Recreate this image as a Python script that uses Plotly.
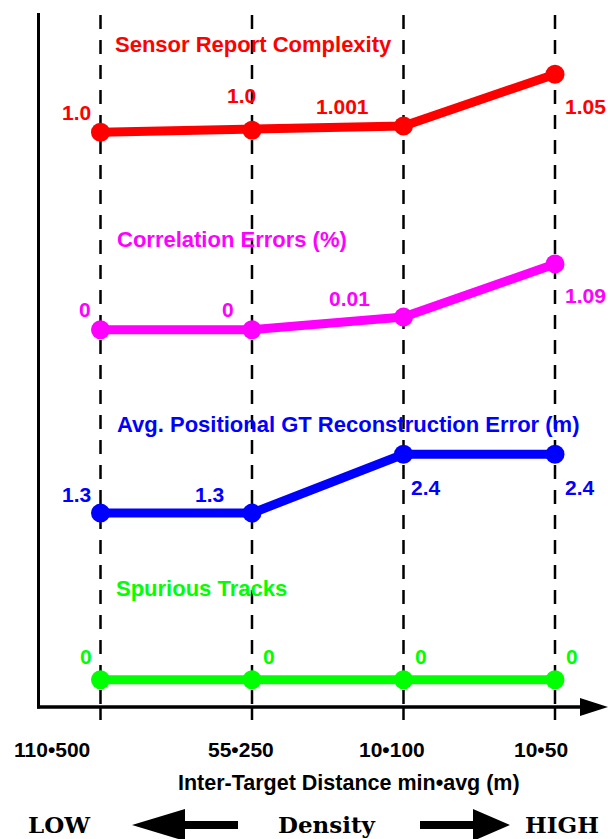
import plotly.graph_objects as go

# ---------------- data ----------------
categories = ["110•500", "55•250", "10•100", "10•50"]
x_title = "Inter-Target Distance min•avg (m)"

series_names = ["Sensor Report Complexity", "Correlation Errors (%)",
                "Avg. Positional GT Reconstruction Error (m)", "Spurious Tracks"]
series_colors = ["#FF0000", "#FF00FF", "#0000FF", "#00FF00"]

# schematic plotted levels and value labels
levels_complexity = [82.1, 82.4, 83.0, 90.4]
labels_complexity = ["1.0", "1.0", "1.001", "1.05"]
levels_correlation = [53.9, 53.9, 55.7, 63.3]
labels_correlation = ["0", "0", "0.01", "1.09"]
levels_gt_error = [27.7, 27.7, 36.1, 36.1]
labels_gt_error = ["1.3", "1.3", "2.4", "2.4"]
levels_spurious = [3.9, 3.9, 3.9, 3.9]
labels_spurious = ["0", "0", "0", "0"]

all_levels = [levels_complexity, levels_correlation, levels_gt_error, levels_spurious]
all_labels = [labels_complexity, labels_correlation, labels_gt_error, labels_spurious]

# ---------------- layout helpers (pixel -> data for decorations) ----------------
W, H = 608, 839
X0, XS = 100.5, 151.5      # pixel of x=0, pixels per category
Y0, YS = 707.0, 7.0        # pixel of level 0, pixels per level unit


def X(px):
    return (px - X0) / XS


def Y(py):
    return (Y0 - py) / YS


FONT = "Liberation Sans, Arial, Helvetica, sans-serif"
SERIF = "DejaVu Serif, serif"

# label offsets in pixels (dx right, dy down) relative to markers
label_offsets = [
    [(-24, -20), (-11, -35), (-61, -20), (30, 32)],
    [(-16, -20), (-24, -20), (-54, -19), (30, 32)],
    [(-24, -19), (-43, -19), (22, 33), (25, 33)],
    [(-15, -23), (17, -23), (17, -23), (17, -23)],
]
title_pos = [(113, 44.5), (115, 239.5), (115, 424), (114, 588)]

fig = go.Figure()
xs = list(range(len(categories)))

shapes = []
# dashed verticals and ticks
for i in xs:
    shapes.append(dict(type="line", x0=i, x1=i, y0=Y(15), y1=Y(706), xref="x", yref="y",
                       line=dict(color="black", width=2.5, dash="14px,11px"), layer="below"))
    shapes.append(dict(type="line", x0=i, x1=i, y0=Y(707), y1=Y(720), xref="x", yref="y",
                       line=dict(color="black", width=2.5)))
# axes
shapes.append(dict(type="line", x0=X(38.5), x1=X(38.5), y0=Y(13), y1=Y(708.5),
                   line=dict(color="black", width=3)))
shapes.append(dict(type="line", x0=X(37), x1=X(583), y0=Y(707), y1=Y(707),
                   line=dict(color="black", width=3.5)))


def path(points):
    return "M " + " L ".join(f"{X(a)},{Y(b)}" for a, b in points) + " Z"


shapes.append(dict(type="path", path=path([(580, 698), (608, 707), (580, 716)]),
                   fillcolor="black", line=dict(width=0)))
shapes.append(dict(type="path",
                   path=path([(132, 825), (185, 809), (185, 821), (238, 821), (238, 829), (185, 829), (185, 841)]),
                   fillcolor="black", line=dict(width=0)))
shapes.append(dict(type="path",
                   path=path([(420, 821), (473, 821), (473, 809), (510, 825), (473, 841), (473, 829), (420, 829)]),
                   fillcolor="black", line=dict(width=0)))

annotations = []
for s, (name, color, lv, lb) in enumerate(zip(series_names, series_colors, all_levels, all_labels)):
    fig.add_trace(go.Scatter(x=xs, y=lv, mode="lines+markers",
                             line=dict(color=color, width=9),
                             marker=dict(color=color, size=19),
                             showlegend=False, hoverinfo="skip"))
    for i, (yv, t) in enumerate(zip(lv, lb)):
        dx, dy = label_offsets[s][i]
        annotations.append(dict(x=i, y=yv, text=t, showarrow=False, xshift=dx, yshift=-dy,
                                xanchor="center", yanchor="middle",
                                font=dict(family=FONT, size=21, color=color, weight="bold")))
    tx, ty = title_pos[s]
    annotations.append(dict(x=X(tx), y=Y(ty), text=name, showarrow=False,
                            xanchor="left", yanchor="middle",
                            font=dict(family=FONT, size=22, color=color, weight="bold")))

tick_centers = [52, 241, 392, 541]
for c, t in zip(tick_centers, categories):
    annotations.append(dict(x=X(c), y=Y(749), text=t, showarrow=False,
                            xanchor="center", yanchor="middle",
                            font=dict(family=FONT, size=21, color="black", weight="bold")))
annotations.append(dict(x=X(348.5), y=Y(783), text=x_title, showarrow=False,
                        xanchor="center", yanchor="middle",
                        font=dict(family=FONT, size=21.5, color="black", weight="bold")))
for c, t in [(59, "LOW"), (326.5, "Density"), (562, "HIGH")]:
    annotations.append(dict(x=X(c), y=Y(824), text=t, showarrow=False,
                            xanchor="center", yanchor="middle",
                            font=dict(family=SERIF, size=23, color="black", weight="bold")))

fig.update_layout(
    width=W, height=H, margin=dict(l=0, r=0, t=0, b=0),
    paper_bgcolor="white", plot_bgcolor="white",
    xaxis=dict(range=[X(0), X(W)], visible=False, fixedrange=True),
    yaxis=dict(range=[Y(H), Y(0)], visible=False, fixedrange=True),
    shapes=shapes, annotations=annotations, showlegend=False,
)

fig.write_html("out.html", config={"displayModeBar": False},
               post_script="document.body.style.margin='0';document.body.style.overflow='hidden';")
